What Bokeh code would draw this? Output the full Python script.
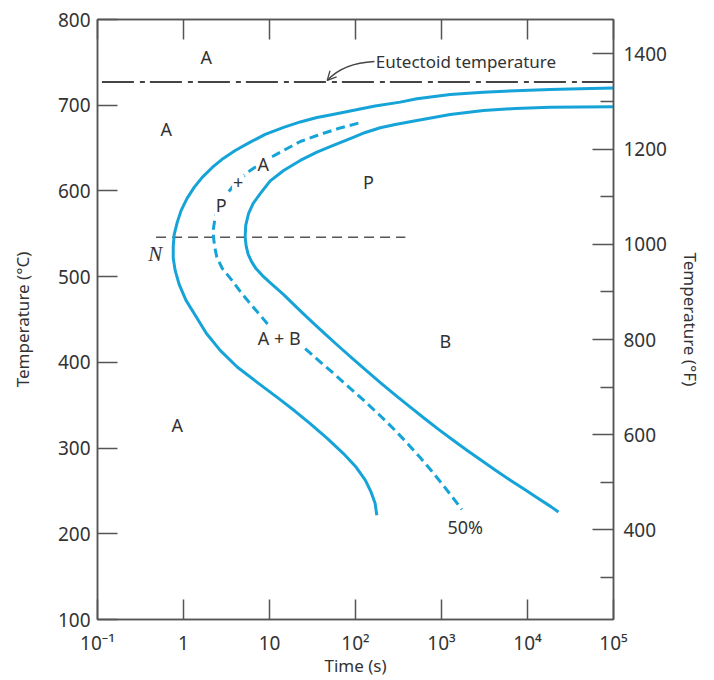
from bokeh.plotting import figure
from bokeh.models import (Range1d, LinearAxis, LogAxis, FixedTicker, Arrow, OpenHead,
                          CustomJSTickFormatter)
from bokeh.core.properties import value
from bokeh.embed import file_html
from bokeh.resources import INLINE

# ---------------- data ----------------
# transformation-start curve (solid, outer)
start_time = [100000, 41000, 18370, 7190, 3055, 1262, 518, 331, 169, 86.8, 50.8, 35.6,
              22.8, 14.6, 8.91, 5.97, 3.99, 2.90, 2.16, 1.65, 1.33, 1.10, 0.94, 0.845,
              0.78, 0.76, 0.76, 0.80, 0.89, 1.07, 1.37, 1.84, 2.67, 4.21, 7.19, 12.3,
              19.9, 29.7, 46.9, 72.4, 102, 130, 152, 169, 177]
start_temp = [720.1, 719.2, 718.4, 716.9, 715.2, 712.5, 707.5, 703.6, 699.1, 693.3, 688.6,
              685.7, 680.5, 674.1, 665.9, 656.9, 647.2, 637.9, 627.4, 615.8, 604.1, 591.3,
              577.3, 563.3, 549.3, 535.3, 521.3, 507.3, 491.0, 472.3, 454.9, 433.9, 414.0,
              394.6, 376.7, 359.2, 342.9, 328.6, 311.4, 293.6, 277.6, 262.5, 248.5, 235.6,
              221.6]

# 50% transformation curve (dashed), broken where "A + B" sits on it
half_upper_time = [108, 66.4, 35.6, 22.8, 14.6, 9.16, 5.97, 4.21, 3.20, 2.60, 2.34, 2.23,
                   2.23, 2.31, 2.44, 2.82, 3.66, 4.56, 5.97, 7.80, 10.2]
half_upper_temp = [679.1, 673.5, 664.7, 657.7, 647.2, 636.2, 623.9, 611.1, 596.8, 583.1,
                   569.5, 556.3, 546.2, 534.1, 522.8, 509.7, 495.7, 482.8, 468.5, 454.9,
                   441.2]
half_lower_time = [26.0, 38.8, 58.1, 86.8, 130, 194, 290, 410, 565, 759, 993, 1297, 1726]
half_lower_temp = [416.0, 400.7, 385.4, 369.7, 354.0, 337.7, 320.5, 304.5, 288.9, 273.8,
                   259.4, 244.6, 228.4]

# transformation-finish curve (solid, inner)
finish_time = [100000, 41000, 18370, 7190, 3076, 1262, 518, 290, 194, 130, 86.8, 55.1,
               35.6, 22.8, 14.6, 10.2, 7.80, 6.46, 5.70, 5.29, 5.21, 5.36, 5.65, 6.21,
               7.00, 8.22, 9.93, 12.0, 14.6, 21.0, 30.5, 44.5, 64.6, 94.0, 137, 199, 303,
               445, 646, 940, 1368, 1991, 2897, 4207, 6124, 8913, 12970, 18880, 22900]
finish_temp = [698.2, 698.0, 697.7, 696.2, 693.9, 689.2, 682.2, 677.6, 673.7, 668.2,
               660.9, 653.1, 645.3, 635.6, 623.9, 611.7, 596.8, 585.4, 573.4, 559.8,
               546.2, 535.3, 526.0, 517.2, 509.1, 501.5, 493.9, 486.7, 479.1, 463.6,
               448.2, 433.0, 418.2, 403.7, 389.4, 375.6, 360.4, 346.9, 333.9, 321.3,
               309.1, 297.2, 285.7, 274.3, 263.4, 252.7, 242.0, 231.4, 225.5]

eutectoid_time = [0.1125, 100000]
eutectoid_temp = [727, 727]

n_line_time = [0.48, 380]
n_line_temp = [546, 546]

region_text = ["A", "A", "P", "+", "A", "P", "A + B", "B", "A"]
region_time = [1.84, 0.63, 2.74, 4.33, 8.45, 141, 13, 1105, 0.845]
region_temp = [755.7, 671.7, 583.1, 610, 632, 611, 428, 424.5, 326.6]

pct_text = ["50%"]
pct_time = [1885]
pct_temp = [207.6]

n_text = ["N"]
n_time = [0.47]
n_temp = [527]

eut_text = ["Eutectoid temperature"]
eut_text_time = [172]
eut_text_temp = [751]
# curved pointer: start, control 1, control 2, end (time, temp)
ptr_time = [166, 99.3, 63, 46.9]
ptr_temp = [751, 749.9, 742.9, 728.9]

time_ticks = [0.1, 1, 10, 100, 1000, 10000, 100000]
time_tick_labels = ["10⁻¹", "1", "10", "10²", "10³", "10⁴", "10⁵"]
celsius_ticks = [100, 200, 300, 400, 500, 600, 700, 800]
fahrenheit_ticks = [400, 600, 800, 1000, 1200, 1400]
fahrenheit_minor = [300, 500, 700, 900, 1100, 1300]
celsius_range = [100, 800]
fahrenheit_range = [212, 1472]
time_range = [0.1, 100000]

# ---------------- styling ----------------
FONT = "Noto Sans"
BLUE = "#16a4d8"
INK = "#333333"
AX = "#555555"

p = figure(width=710, height=680, x_axis_type="log",
           x_range=Range1d(*time_range), y_range=Range1d(*celsius_range),
           output_backend="svg", toolbar_location=None,
           min_border_left=97, min_border_right=97, min_border_top=19, min_border_bottom=61)
p.extra_y_ranges = {"F": Range1d(*fahrenheit_range)}
p.xgrid.visible = False
p.ygrid.visible = False
p.outline_line_color = AX
p.outline_line_width = 1.5
p.background_fill_color = "white"
p.border_fill_color = "white"


def style_axis(ax, tick_in=20):
    ax.axis_line_color = AX
    ax.axis_line_width = 1.5
    ax.major_tick_line_color = AX
    ax.major_tick_line_width = 1.5
    ax.minor_tick_line_color = AX
    ax.minor_tick_line_width = 1.5
    ax.major_tick_in = tick_in
    ax.major_tick_out = 0
    ax.minor_tick_in = 0
    ax.minor_tick_out = 0
    ax.major_label_text_font = FONT
    ax.major_label_text_font_size = "19px"
    ax.major_label_text_color = INK
    ax.axis_label_text_font = FONT
    ax.axis_label_text_font_size = "17px"
    ax.axis_label_text_font_style = "normal"
    ax.axis_label_text_color = INK


# bottom axis
xa = p.xaxis[0]
style_axis(xa)
xa.ticker = FixedTicker(ticks=time_ticks, minor_ticks=[])
xa.formatter = CustomJSTickFormatter(args=dict(labels=time_tick_labels), code="""
    const e = Math.round(Math.log10(tick));
    return labels[e + 1];
""")
xa.axis_label = "Time (s)"
xa.major_label_standoff = 10
xa.axis_label_standoff = -5

# left axis
ya = p.yaxis[0]
style_axis(ya)
ya.ticker = FixedTicker(ticks=celsius_ticks, minor_ticks=[])
ya.axis_label = "Temperature (°C)"
ya.major_label_standoff = 7
ya.axis_label_standoff = 21

# top axis (ticks only)
top = LogAxis(ticker=FixedTicker(ticks=time_ticks, minor_ticks=[]),
              formatter=CustomJSTickFormatter(code="return '';"))
style_axis(top)
top.major_label_text_font_size = "0px"
top.major_label_standoff = 0
p.add_layout(top, "above")

# right axis in Fahrenheit
ra = LinearAxis(y_range_name="F",
                ticker=FixedTicker(ticks=fahrenheit_ticks, minor_ticks=fahrenheit_minor))
style_axis(ra, tick_in=21)
ra.minor_tick_in = 13
ra.axis_label = "Temperature (°F)"
ra.major_label_standoff = 10
ra.axis_label_standoff = 9
p.add_layout(ra, "right")

# ---------------- marks ----------------
p.line(eutectoid_time, eutectoid_temp, line_color="#444444", line_width=2,
       line_dash="32 6 5 5")
p.line(n_line_time, n_line_temp, line_color="#555555", line_width=1.6, line_dash="10 6")

p.line(start_time, start_temp, line_color=BLUE, line_width=3, line_join="round")
p.line(finish_time, finish_temp, line_color=BLUE, line_width=3, line_join="round")
p.line(half_upper_time, half_upper_temp, line_color=BLUE, line_width=3, line_dash="9 5",
       line_join="round")
p.line(half_lower_time, half_lower_temp, line_color=BLUE, line_width=3, line_dash="9 5",
       line_join="round")

# labels
p.text(x=region_time, y=region_temp, text=region_text, text_font=value(FONT),
       text_font_size="18px", text_color=INK, text_align="center", text_baseline="middle",
       background_fill_color="white", padding=1)
p.text(x=pct_time, y=pct_temp, text=pct_text, text_font=value(FONT),
       text_font_size="18px", text_color=INK, text_align="center", text_baseline="middle")
p.text(x=n_time, y=n_temp, text=n_text, text_font=value("Liberation Serif"),
       text_font_style="italic", text_font_size="21px", text_color=INK,
       text_align="center", text_baseline="middle")
p.text(x=eut_text_time, y=eut_text_temp, text=eut_text, text_font=value(FONT),
       text_font_size="17px", text_color=INK, text_align="left", text_baseline="middle")

# curved pointer to the eutectoid line
p.bezier(x0=[ptr_time[0]], y0=[ptr_temp[0]], cx0=[ptr_time[1]], cy0=[ptr_temp[1]],
         cx1=[ptr_time[2]], cy1=[ptr_temp[2]], x1=[ptr_time[3]], y1=[ptr_temp[3]],
         line_color="#444444", line_width=1.3)
p.add_layout(Arrow(end=OpenHead(size=9, line_color="#444444", line_width=1.3),
                   x_start=ptr_time[2], y_start=ptr_temp[2],
                   x_end=ptr_time[3], y_end=ptr_temp[3],
                   line_color="#444444", line_width=1.3, line_alpha=0))

open("out.html", "w").write(file_html(p, INLINE))
